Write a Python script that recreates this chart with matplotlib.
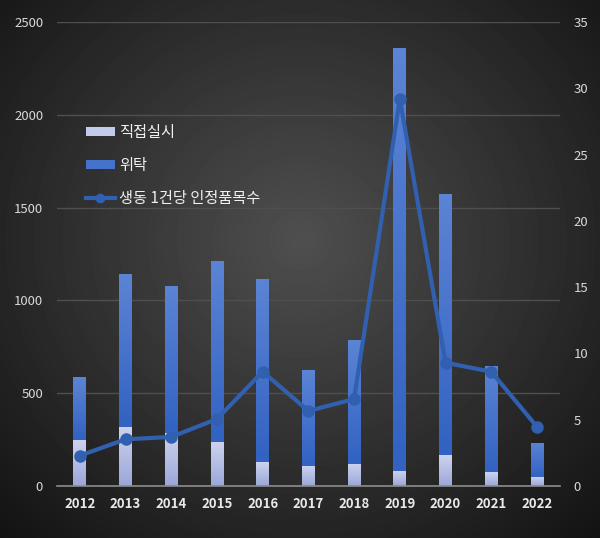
import matplotlib.pyplot as plt
import numpy as np
from matplotlib.patches import Patch
from matplotlib.lines import Line2D
from matplotlib.colors import LinearSegmentedColormap

plt.rcParams['font.family'] = ['Noto Sans CJK KR', 'DejaVu Sans']

# data
years = ['2012', '2013', '2014', '2015', '2016', '2017', '2018', '2019', '2020', '2021', '2022']
direct = [250, 320, 287, 237, 128, 108, 119, 81, 167, 74, 50]
total = [586, 1143, 1079, 1214, 1117, 624, 787, 2361, 1575, 647, 234]
consign = [t - d for t, d in zip(total, direct)]
per_case = [2.29, 3.52, 3.70, 5.05, 8.62, 5.66, 6.56, 29.2, 9.3, 8.62, 4.47]

fig = plt.figure(figsize=(6, 5.38), dpi=100)

# radial gradient background
bg = fig.add_axes([0, 0, 1, 1], zorder=-10)
yy, xx = np.mgrid[0:538, 0:600]
r = np.sqrt(((xx - 300) / 420.0) ** 2 + ((yy - 240) / 400.0) ** 2)
shade = np.clip(0.31 - 0.23 * r, 0.06, 0.31)
bg.imshow(shade, cmap='gray', vmin=0, vmax=1, aspect='auto', extent=[0, 1, 0, 1])
bg.axis('off')

ax = fig.add_axes([0.095, 0.0967, 0.838, 0.8625])
ax.patch.set_alpha(0)
x = np.arange(len(years))
w = 0.28

cm_direct = LinearSegmentedColormap.from_list('d', ['#9ba7d9', '#cdd3ee'])
cm_cons = LinearSegmentedColormap.from_list('c', ['#3262c2', '#5b84d4'])


def grad_bars(bars, cmap):
    for b in bars:
        x0, y0 = b.get_x(), b.get_y()
        bw, bh = b.get_width(), b.get_height()
        im = ax.imshow(np.linspace(0, 1, 64).reshape(-1, 1), cmap=cmap, origin='lower',
                       extent=[x0, x0 + bw, y0, y0 + bh], aspect='auto', zorder=2)
        im.set_clip_path(b)
        b.set_facecolor('none')


b1 = ax.bar(x, direct, w, color='#b8c0e6', zorder=2)
b2 = ax.bar(x, consign, w, bottom=direct, color='#4573cc', zorder=2)
grad_bars(b1, cm_direct)
grad_bars(b2, cm_cons)

ax.set_xlim(-0.5, 10.5)
ax.set_ylim(0, 2500)
ax.set_yticks(np.arange(0, 2501, 500))
ax.set_xticks(x)
ax.set_xticklabels(years, fontsize=9.5, fontweight='bold', color='#e8e8e8')
ax.tick_params(axis='y', length=0, pad=10, labelsize=9.5, labelcolor='#d9d9d9')
ax.tick_params(axis='x', length=0, pad=8)
for s in ['top', 'right', 'left']:
    ax.spines[s].set_visible(False)
ax.spines['bottom'].set_color('#8c8c8c')
ax.spines['bottom'].set_linewidth(1.2)
ax.yaxis.grid(True, color='#4f4f4f', linewidth=1)
ax.set_axisbelow(True)

ax2 = ax.twinx()
ax2.plot(x, per_case, color='#3260b0', linewidth=3, marker='o', markersize=8, zorder=3)
ax2.set_ylim(0, 35)
ax2.set_yticks(np.arange(0, 36, 5))
ax2.tick_params(axis='y', length=0, pad=10, labelsize=9.5, labelcolor='#d9d9d9')
for s in ax2.spines.values():
    s.set_visible(False)

handles = [Patch(facecolor='#c3cbec', edgecolor='none'),
           Patch(facecolor='#4573cc', edgecolor='none'),
           Line2D([0], [0], color='#3260b0', linewidth=3, marker='o', markersize=6)]
labels = ['직접실시', '위탁', '생동 1건당 인정품목수']
leg = ax2.legend(handles, labels, loc='upper left', bbox_to_anchor=(0.03, 0.81),
                 frameon=False, fontsize=11, labelcolor='#f0f0f0',
                 handlelength=1.9, handleheight=0.55, handletextpad=0.3, labelspacing=1.05)

fig.savefig('out.png', dpi=100)
